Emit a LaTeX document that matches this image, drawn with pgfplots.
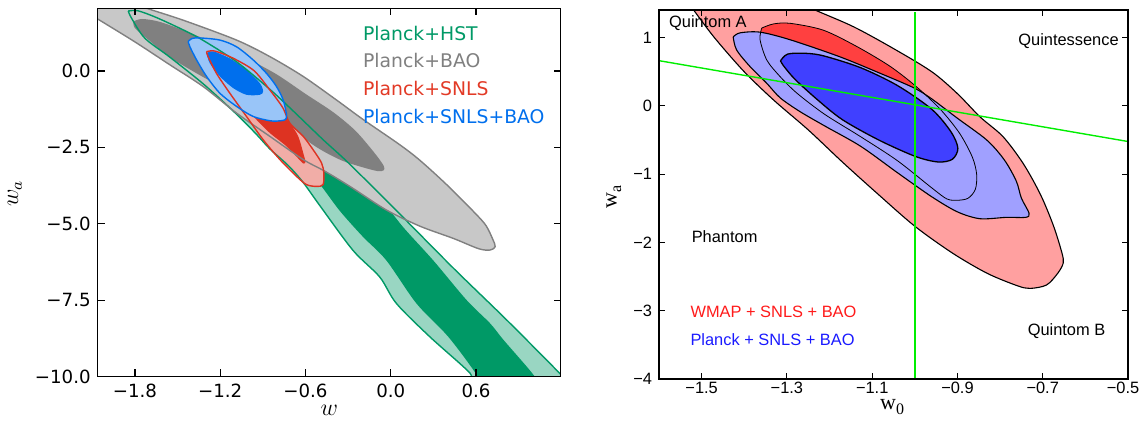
\documentclass[border=0pt]{standalone}
\usepackage{fontspec}
\usepackage{pgfplots}
\pgfplotsset{compat=1.18}
\newfontfamily\dejavu{DejaVu Sans}
\newfontfamily\arial{Liberation Sans}
\newfontfamily\tnr{Liberation Serif}
\definecolor{gD}{HTML}{009966}
\definecolor{gL}{HTML}{99D6C2}
\definecolor{kD}{HTML}{808080}
\definecolor{kL}{HTML}{C8C8C8}
\definecolor{rD}{HTML}{DD3322}
\definecolor{rL}{HTML}{F1ADA7}
\definecolor{rT}{HTML}{E23A26}
\definecolor{bD}{HTML}{006FED}
\definecolor{bL}{HTML}{99C5F8}
\definecolor{mP}{HTML}{FFA0A0}
\definecolor{mR}{HTML}{FF4040}
\definecolor{mLB}{HTML}{A0A0FF}
\definecolor{mB}{HTML}{4040FF}
\definecolor{mG}{HTML}{00EE00}
\definecolor{tR}{HTML}{FF1A1A}
\definecolor{tB}{HTML}{1A1AFF}
\pgfplotstableread{
x y
-1.847 1.96
-1.78 1.97
-1.65 1.75
-1.45 1.32
-1.32 1.0
-1.085 0.30
-0.851 -0.60
-0.70 -1.25
-0.476 -2.25
-0.30 -3.0
0.04 -4.57
0.44 -6.45
0.816 -8.15
1.20 -9.95
1.26 -10.3
0.59 -10.3
0.558 -9.89
0.275 -8.70
0.04 -7.61
-0.078 -6.74
-0.266 -5.87
-0.5 -4.40
-0.616 -3.65
-0.72 -3.1
-0.851 -2.55
-0.95 -2.05
-1.10 -1.35
-1.32 -0.42
-1.554 0.45
-1.73 1.07
-1.823 1.72
-1.847 1.96
}\hstout
\pgfplotstableread{
x y
-2.2 2.9
-1.95 2.45
-1.75 2.1
-1.46 1.66
-1.085 1.01
-0.851 0.47
-0.616 -0.18
-0.382 -0.95
-0.197 -1.58
0.059 -2.40
0.204 -2.92
0.40 -3.75
0.603 -4.70
0.673 -5.08
0.718 -5.51
0.735 -5.75
0.70 -5.86
0.62 -5.82
0.44 -5.48
0.205 -5.08
-0.031 -4.55
-0.28 -3.80
-0.464 -3.28
-0.616 -2.90
-0.851 -2.14
-1.085 -1.38
-1.32 -0.51
-1.554 0.20
-1.8 0.95
-2.062 1.70
-2.2 2.1
}\baoout
\pgfplotstableread{
x y
-1.296 0.63
-1.249 0.66
-1.18 0.56
-1.085 0.36
-0.96 0.0
-0.851 -0.62
-0.76 -1.2
-0.710 -1.71
-0.616 -2.14
-0.546 -2.58
-0.487 -3.01
-0.471 -3.34
-0.476 -3.72
-0.522 -3.78
-0.593 -3.72
-0.663 -3.45
-0.780 -2.90
-0.898 -2.25
-1.015 -1.49
-1.132 -0.73
-1.226 -0.08
-1.285 0.47
-1.296 0.63
}\snlsout
\pgfplotstableread{
x y
-1.425 0.96
-1.40 1.06
-1.343 1.08
-1.202 1.01
-1.085 0.79
-0.968 0.36
-0.874 -0.08
-0.804 -0.51
-0.757 -0.95
-0.733 -1.45
-0.745 -1.60
-0.80 -1.64
-0.851 -1.63
-0.968 -1.49
-1.085 -1.16
-1.202 -0.73
-1.296 -0.18
-1.366 0.36
-1.413 0.79
-1.425 0.96
}\sbout
\pgfplotstableread{
x y
-1.54 1.6
-1.30 1.6
-1.238 1.415
-1.144 1.16
-1.05 0.84
-0.96 0.50
-0.90 0.18
-0.847 -0.16
-0.793 -0.45
-0.745 -0.85
-0.705 -1.30
-0.675 -1.75
-0.655 -2.15
-0.652 -2.30
-0.665 -2.45
-0.691 -2.62
-0.73 -2.67
-0.76 -2.63
-0.83 -2.45
-0.91 -2.16
-1.0 -1.76
-1.09 -1.27
-1.17 -0.82
-1.25 -0.35
-1.33 0.08
-1.40 0.50
-1.47 1.0
-1.52 1.415
-1.54 1.6
}\wout
\pgfplotstableread{
x y
-1.359 1.14
-1.332 1.20
-1.293 1.21
-1.215 1.11
-1.136 0.87
-1.058 0.58
-0.996 0.28
-0.94 -0.05
-0.895 -0.40
-0.865 -0.75
-0.855 -1.0
-0.858 -1.22
-0.875 -1.35
-0.90 -1.38
-0.925 -1.36
-0.96 -1.2
-1.041 -0.80
-1.127 -0.45
-1.212 -0.12
-1.277 0.19
-1.316 0.43
-1.347 0.67
-1.363 0.97
-1.359 1.14
}\win
\pgfplotstableread{
x y
-1.426 1.01
-1.41 1.07
-1.363 1.08
-1.293 0.97
-1.176 0.72
-1.082 0.48
-1.004 0.27
-0.964 0.12
-0.90 -0.18
-0.831 -0.50
-0.790 -0.79
-0.762 -1.10
-0.750 -1.35
-0.732 -1.57
-0.740 -1.63
-0.785 -1.63
-0.847 -1.65
-0.90 -1.55
-0.96 -1.33
-1.04 -0.98
-1.127 -0.59
-1.212 -0.29
-1.27 -0.08
-1.316 0.12
-1.347 0.33
-1.387 0.58
-1.418 0.82
-1.426 1.01
}\pout
\pgfplotstableread{
x y
-1.315 0.66
-1.298 0.76
-1.254 0.77
-1.212 0.73
-1.127 0.56
-1.041 0.30
-0.96 -0.05
-0.915 -0.38
-0.899 -0.62
-0.912 -0.78
-0.945 -0.82
-0.998 -0.74
-1.084 -0.50
-1.17 -0.20
-1.23 0.10
-1.281 0.39
-1.307 0.58
-1.315 0.66
}\pin
\begin{document}
\begin{tikzpicture}
\path[use as bounding box] (0,0) rectangle (570bp,211bp);
% ---------------- LEFT PANEL ----------------
\begin{axis}[
  at={(48.85bp,22.75bp)}, anchor=south west, scale only axis,
  width=231.5bp, height=184.1bp,
  xmin=-2.062, xmax=1.196, ymin=-10, ymax=2.05,
  axis on top, tick align=inside, xtick pos=both, ytick pos=both,
  axis line style={line width=0.75bp},
  major tick length=3.5bp, every tick/.append style={line width=0.6bp, black},
  xtick={-1.8,-1.2,-0.6,0,0.6}, xticklabels={−1.8,−1.2,−0.6,0.0,0.6},
  ytick={-10,-7.5,-5,-2.5,0}, yticklabels={−10.0,−7.5,−5.0,−2.5,0.0},
  ticklabel style={font=\dejavu\fontsize{9.1bp}{11bp}\selectfont},
  xlabel={$w$}, ylabel={$w_a$},
  label style={font=\fontsize{11.5bp}{13bp}\selectfont},
  xlabel style={at={(axis description cs:0.5,-0.1046)}, anchor=base},
  ylabel style={at={(axis description cs:-0.179,0.497)}, anchor=center},
]
% Planck+HST 95%
\addplot[draw=none, fill=gL, smooth, tension=0.5] table {\hstout};
% Planck+HST 68%
\addplot[draw=none, fill=gD, smooth, tension=0.5] coordinates {
(-0.5,-2.8) (-0.3,-3.2) (-0.101,-4.02) (0.087,-5.11) (0.299,-6.20) (0.534,-7.50) (0.699,-8.26) (0.793,-8.80) (1.005,-9.95) (1.03,-10.3) (0.62,-10.3) (0.605,-9.95) (0.405,-8.70) (0.181,-7.61) (-0.031,-6.20) (-0.195,-5.43) (-0.36,-4.57) (-0.501,-3.70) (-0.6,-3.3) (-0.5,-2.8)};
% Planck+BAO 95%
\addplot[draw=none, fill=kL, smooth, tension=0.5] table {\baoout};
% Planck+BAO 68%
\addplot[draw=none, fill=kD, smooth, tension=0.5] coordinates {
(-1.81,1.62) (-1.75,1.70) (-1.62,1.60) (-1.4,1.22) (-1.2,0.82) (-1.0,0.38) (-0.8,-0.12) (-0.6,-0.75) (-0.405,-1.35) (-0.25,-1.95) (-0.12,-2.65) (-0.05,-3.1) (-0.05,-3.25) (-0.09,-3.28) (-0.2,-3.15) (-0.35,-2.92) (-0.52,-2.5) (-0.75,-1.75) (-1.0,-1.0) (-1.32,-0.2) (-1.554,0.45) (-1.7,1.0) (-1.8,1.40) (-1.81,1.62)};
% Planck+SNLS 95%
\addplot[draw=none, fill=rL, smooth, tension=0.5] table {\snlsout};
% Planck+SNLS 68%
\addplot[draw=none, fill=rD, smooth, tension=0.5] coordinates {
(-1.15,0.0) (-1.0,-0.3) (-0.85,-0.9) (-0.71,-1.71) (-0.651,-2.14) (-0.616,-2.68) (-0.600,-2.98) (-0.615,-3.03) (-0.640,-2.92) (-0.733,-2.47) (-0.851,-2.03) (-0.944,-1.60) (-1.05,-1.05) (-1.15,-0.5) (-1.15,0.0)};
% Planck+SNLS+BAO 95%
\addplot[draw=none, fill=bL, smooth, tension=0.5] table {\sbout};
% Planck+SNLS+BAO 68%
\addplot[draw=none, fill=bD, smooth, tension=0.5] coordinates {
(-1.296,0.58) (-1.249,0.64) (-1.132,0.41) (-1.015,0.03) (-0.921,-0.40) (-0.898,-0.67) (-0.921,-0.78) (-1.015,-0.78) (-1.109,-0.56) (-1.202,-0.18) (-1.273,0.25) (-1.296,0.58)};
% outlines
\addplot[draw=gD, line width=0.7bp, smooth, tension=0.5] table {\hstout};
\addplot[draw=kD, line width=0.7bp, smooth, tension=0.5] table {\baoout};
\addplot[draw=rD, line width=0.7bp, smooth, tension=0.5] table {\snlsout};
\addplot[draw=bD, line width=0.7bp, smooth, tension=0.5] table {\sbout};
\begin{scope}[every node/.style={anchor=west, inner sep=0pt, font=\dejavu\fontsize{9.4bp}{11bp}\selectfont}]
\node[text=gD] at (axis cs:-0.197,1.24) {Planck+HST};
\node[text=kD] at (axis cs:-0.197,0.33) {Planck+BAO};
\node[text=rT] at (axis cs:-0.197,-0.59) {Planck+SNLS};
\node[text=bD] at (axis cs:-0.197,-1.50) {Planck+SNLS+BAO};
\end{scope}
\end{axis}
% ---------------- RIGHT PANEL ----------------
\begin{axis}[
  at={(329.5bp,21.35bp)}, anchor=south west, scale only axis,
  width=234.5bp, height=184.5bp,
  xmin=-1.6, xmax=-0.5, ymin=-4, ymax=1.4,
  axis on top, tick align=inside, xtick pos=both, ytick pos=both,
  axis line style={line width=0.9bp},
  major tick length=3bp, every tick/.append style={line width=0.5bp, black},
  xtick={-1.5,-1.3,-1.1,-0.9,-0.7,-0.5},
  xticklabels={−1.5,−1.3,−1.1,−0.9,−0.7,\hspace*{-5bp}−0.5},
  ytick={-4,-3,-2,-1,0,1}, yticklabels={−4,−3,−2,−1,0,1},
  ticklabel style={font=\arial\fontsize{8.2bp}{10bp}\selectfont},
  xticklabel style={inner sep=1.2bp},
  xlabel={\tnr w\raisebox{-0.45ex}{\fontsize{8bp}{9bp}\selectfont 0}},
  ylabel={\tnr w\raisebox{-0.45ex}{\fontsize{8bp}{9bp}\selectfont a}},
  label style={font=\tnr\fontsize{11bp}{13bp}\selectfont},
  xlabel style={at={(axis description cs:0.497,-0.083)}, anchor=base},
  ylabel style={at={(axis description cs:-0.096,0.494)}, anchor=center},
]
% WMAP+SNLS+BAO 95% and 68%
\addplot[draw=none, fill=mP, smooth, tension=0.5] table {\wout};
\addplot[draw=none, fill=mR, smooth, tension=0.5] table {\win};
% Planck+SNLS+BAO 95% and 68%
\addplot[draw=none, fill=mLB, smooth, tension=0.5] table {\pout};
\addplot[draw=none, fill=mB, smooth, tension=0.5] table {\pin};
% outlines
\addplot[draw=black, line width=0.55bp, smooth, tension=0.5] table {\wout};
\addplot[draw=black, line width=0.4bp, smooth, tension=0.5] table {\win};
\addplot[draw=black, line width=0.55bp, smooth, tension=0.5] table {\pout};
\addplot[draw=black, line width=0.65bp, smooth, tension=0.5] table {\pin};
% green reference lines
\addplot[draw=mG, line width=0.7bp] coordinates {(-1.6,0.663) (-0.5,-0.52)};
\addplot[draw=mG, line width=0.7bp] coordinates {(-1.0,1.37) (-1.0,-4)};
\begin{scope}[every node/.style={inner sep=0pt, font=\arial\fontsize{8.2bp}{10bp}\selectfont}]
\node[anchor=west] at (axis cs:-1.577,1.21) {Quintom A};
\node[anchor=east] at (axis cs:-0.521,0.95) {Quintessence};
\node[anchor=west] at (axis cs:-1.524,-1.91) {Phantom};
\node[anchor=west] at (axis cs:-0.736,-3.30) {Quintom B};
\node[anchor=west, text=tR] at (axis cs:-1.527,-3.01) {WMAP + SNLS + BAO};
\node[anchor=west, text=tB] at (axis cs:-1.527,-3.42) {Planck + SNLS + BAO};
\end{scope}
\end{axis}
\end{tikzpicture}
\end{document}
